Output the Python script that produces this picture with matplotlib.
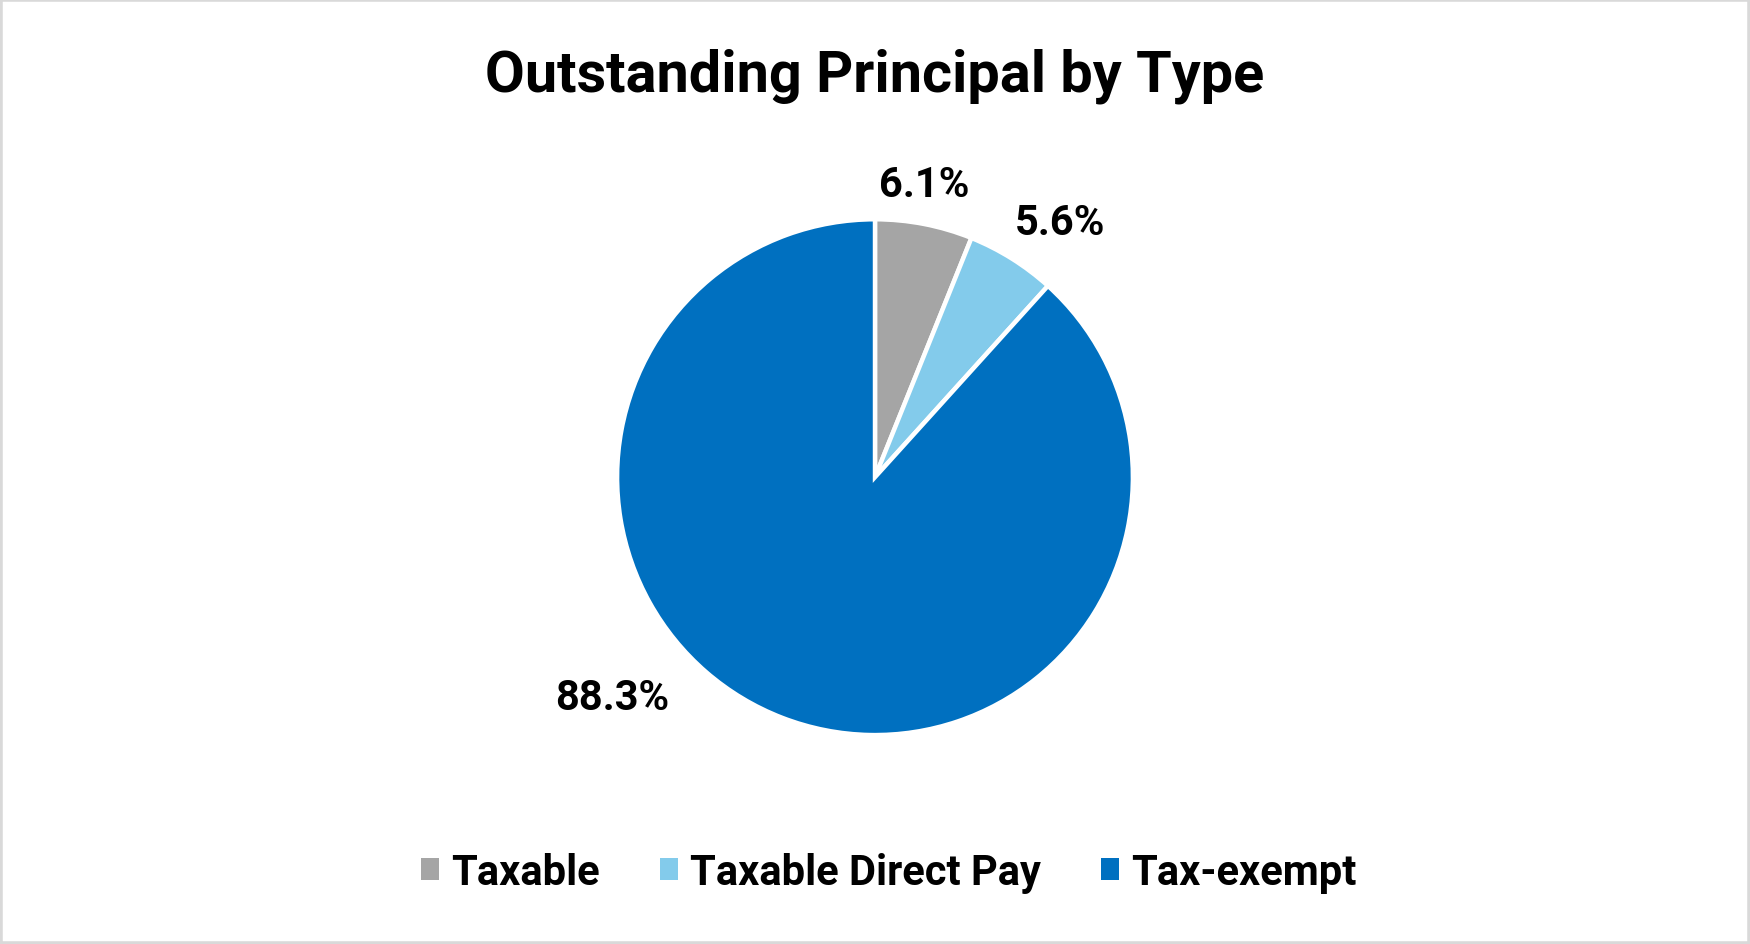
import matplotlib
matplotlib.use("Agg")
import matplotlib.pyplot as plt
import numpy as np
from matplotlib.patches import Rectangle

categories = ["Taxable", "Taxable Direct Pay", "Tax-exempt"]
shares = [6.1, 5.6, 88.3]
colors = ["#A5A5A5", "#83CBEB", "#0070C0"]

plt.rcParams['font.family'] = ['Roboto', 'DejaVu Sans']

fig = plt.figure(figsize=(17.5, 9.45), dpi=100)
fig.patches.append(Rectangle((0, 0), 1, 1, transform=fig.transFigure,
                             fill=False, edgecolor="#D9D9D9", linewidth=4))

fig.text(0.5, 0.919, "Outstanding Principal by Type", ha="center", va="center",
         fontsize=41.5, fontweight="bold")

r = 0.2729
ax = fig.add_axes([0.5 - r * 945 / 1750, 0.494 - r, 2 * r * 945 / 1750, 2 * r])
wedges, texts, autotexts = ax.pie(shares, colors=colors, startangle=90, counterclock=False,
                                  autopct="%.1f%%", pctdistance=1.16,
                                  wedgeprops=dict(edgecolor="white", linewidth=3.2),
                                  textprops=dict(fontsize=30, fontweight="bold"))
ax.set_xlim(-1, 1)
ax.set_ylim(-1, 1)
ax.set_aspect("equal")
ax.axis("off")

# labels nudged like the original, big one placed lower left
autotexts[0].set_position((1.15 * np.sin(np.radians(9.5)), 1.15 * np.cos(np.radians(9.5))))
autotexts[1].set_position((1.22 * np.sin(np.radians(36)), 1.22 * np.cos(np.radians(36))))
autotexts[2].set_position((1.33 * np.cos(np.radians(220)), 1.33 * np.sin(np.radians(220))))
for t in autotexts:
    t.set_clip_on(False)

leg = fig.legend(wedges, categories, loc="center", bbox_to_anchor=(0.508, 0.076), ncol=3,
                 frameon=False, handlelength=0.42, handleheight=0.42, handletextpad=0.3,
                 columnspacing=1.45, prop=dict(weight="bold", size=30))
for h in leg.legend_handles:
    h.set_linewidth(0)

fig.savefig("out.png", dpi=100)
